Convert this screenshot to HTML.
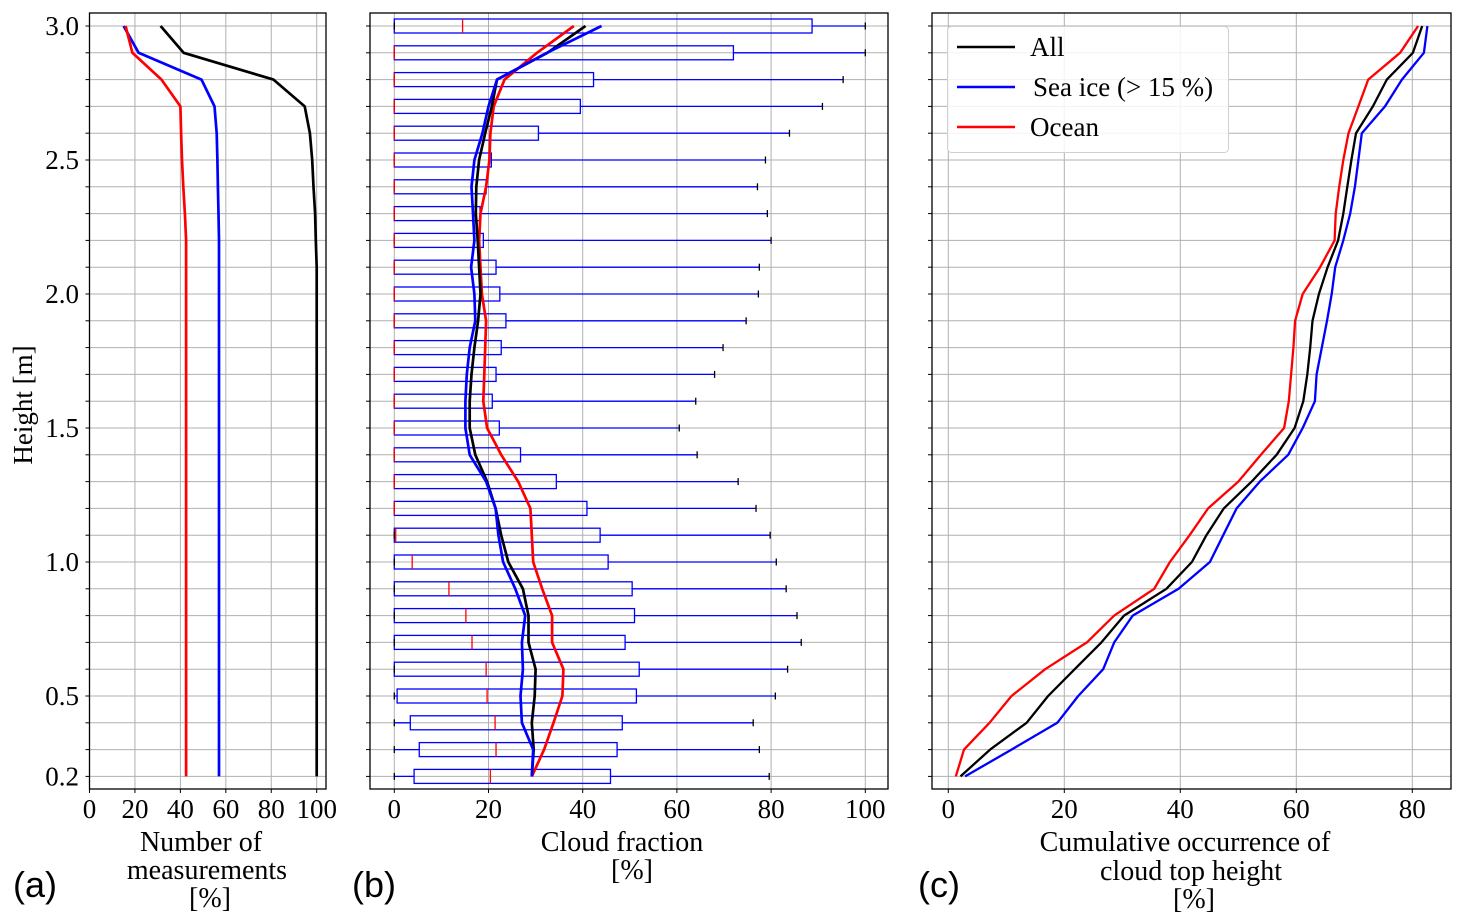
<!DOCTYPE html>
<html><head><meta charset="utf-8"><style>
html,body{margin:0;padding:0;background:#fff;}
svg{display:block;font-family:"Liberation Serif",serif;}
</style></head><body>
<svg id="fig" width="1465" height="924" viewBox="0 0 1465 924" xmlns="http://www.w3.org/2000/svg"></svg>
<script>
// ---- data (heights descending 3.0 .. 0.2) ----
const heights = [3.0,2.9,2.8,2.7,2.6,2.5,2.4,2.3,2.2,2.1,2.0,1.9,1.8,1.7,1.6,1.5,1.4,1.3,1.2,1.1,1.0,0.9,0.8,0.7,0.6,0.5,0.4,0.3,0.2];
const yTickLabels = [3.0,2.5,2.0,1.5,1.0,0.5,0.2];
// panel a: number of measurements [%]
const measAll   = [31.3,41.4,81,94.7,97,98,98.6,99.3,99.6,100,100,100,100,100,100,100,100,100,100,100,100,100,100,100,100,100,100,100,100];
const measIce   = [15,21.6,49.3,55,56,56.3,56.5,56.8,57,57,57,57,57,57,57,57,57,57,57,57,57,57,57,57,57,57,57,57,57];
const measOcean = [15.9,18.9,31.7,40,40.3,40.7,41.3,42,42.5,42.5,42.5,42.5,42.5,42.5,42.5,42.5,42.5,42.5,42.5,42.5,42.5,42.5,42.5,42.5,42.5,42.5,42.5,42.5,42.5];
const aTicks = [0,20,40,60,80,100];
// panel b: boxplots + mean lines
const boxLow  = [0,0,0,0,0,0,0,0,0,0,0,0,0,0,0,0,0,0,0,0,0,0,0,0,0,0,0,0,0];
const boxQ1   = [0,0,0,0,0,0,0,0,0,0,0,0,0,0,0,0,0,0,0,0,0,0,0,0,0,0.6,3.4,5.3,4.2];
const boxMed  = [14.5,0,0,0,0,0,0,0,0,0,0,0,0,0,0,0,0,0,0,0.3,3.8,11.6,15.2,16.5,19.5,19.7,21.4,21.6,20.4];
const boxQ3   = [88.7,72,42.3,39.5,30.6,20.6,19.5,18.2,18.9,21.6,22.4,23.7,22.7,21.6,20.8,22.3,26.8,34.4,40.9,43.7,45.4,50.5,51,49,52,51.4,48.4,47.3,45.9];
const boxHigh = [100,100,95.3,90.9,83.9,78.8,77.1,79.2,80,77.5,77.3,74.7,69.8,68,64,60.5,64.3,73,76.8,79.8,81.1,83.2,85.5,86.4,83.5,80.9,76.2,77.5,79.6];
const cfAll   = [40.6,32.5,21.8,20.7,19.3,18,17.4,17.3,17.7,18,18.3,17.8,17,16.4,16,16,17.2,19.7,21.5,22.7,24.2,27.3,28.5,28.5,30,29.8,29.2,29.6,29.2];
const cfIce   = [44,32.4,21.8,20,18.7,17,16.4,16.7,17,16.3,17,17.2,16,15.4,15.1,15.1,16,19.5,21.5,22.1,23.1,25.7,27.8,27.1,27.3,26.8,27.1,29.5,29.2];
const cfOcean = [38.1,30.3,23.4,21.1,20.4,20.2,19.5,18.3,18,18.3,18.6,19.5,19.3,19.1,18.9,19.7,22.7,26.3,28.9,29.2,29.5,31.4,33.5,33.5,35.9,35.7,33.8,31.8,29.2];
const bTicks = [0,20,40,60,80,100];
// panel c: cumulative occurrence of cloud top height
const cumAll   = [81.7,80.1,75.6,73.2,70.3,69.5,68.8,68.1,67.2,65.4,63.9,62.8,62.4,61.9,61.2,59.7,56.6,52.3,47.5,44.5,42,37.6,30.3,26.4,21.8,17.2,13.5,7.2,2.1];
const cumIce   = [82.6,82,78.2,75.3,71.3,70.7,70.1,69.3,68.1,66.7,66.1,65.3,64.4,63.5,63.2,61.1,58.6,53.7,49.7,47.4,45.1,39.7,31.8,28.6,26.7,22.4,18.8,10.9,2.9];
const cumOcean = [81,77.9,72.4,70.7,69,68.1,67.4,66.8,66.6,64.1,61.1,59.8,59.5,59.1,58.7,57.9,53.9,50,44.8,41.6,38.2,35.5,28.6,23.9,16.7,10.9,7.1,2.7,1.3];
const cTicks = [0,20,40,60,80];
const legendLabels = ["All","Sea ice (> 15 %)","Ocean"];

const NS="http://www.w3.org/2000/svg";
const svg=document.getElementById('fig');
function mk(tag,attrs,parent){const e=document.createElementNS(NS,tag);for(const k in attrs)e.setAttribute(k,attrs[k]);(parent||svg).appendChild(e);return e;}
const TOP=13,BOT=789;
function yS(v){return 26+(3.0-v)*268;}
const panels={
 a:{l:89.5,r:326,x0:89.5,k:2.272},
 b:{l:370,r:888,x0:394.3,k:4.71},
 c:{l:932,r:1451,x0:948.3,k:5.8}
};
function xF(p){return v=>p.x0+v*p.k;}

function axes(p,name,ticks,showY){
  const g=mk('g',{});
  
  
  const x=xF(p);
  heights.forEach(h=>{
    const l=mk('line',{x1:p.l,x2:p.r,y1:yS(h),y2:yS(h),stroke:'#b0b0b0','stroke-width':1},g);
    
    
  });
  ticks.forEach(t=>{
    const l=mk('line',{x1:x(t),x2:x(t),y1:TOP,y2:BOT,stroke:'#b0b0b0','stroke-width':1},g);
    
    
    mk('line',{x1:x(t),x2:x(t),y1:BOT,y2:BOT+4,stroke:'#000','stroke-width':1},g);
    const tx=mk('text',{x:x(t),y:818,'text-anchor':'middle','font-size':27},g);
    tx.textContent=t;
    
    
  });
  heights.forEach(h=>{
    mk('line',{x1:p.l-4,x2:p.l,y1:yS(h),y2:yS(h),stroke:'#000','stroke-width':1},g);
  });
  if(showY){
    yTickLabels.forEach(v=>{
      const tx=mk('text',{x:79,y:yS(v)+9,'text-anchor':'end','font-size':27},g);
      tx.textContent=v.toFixed(1);
      
      
    });
  }
  return g;
}
function frame(p,name){
  const r=mk('rect',{x:p.l,y:TOP,width:p.r-p.l,height:BOT-TOP,fill:'none',stroke:'#000','stroke-width':1.3});
  
  
}
function line(p,vals,color,name,w){
  const x=xF(p);
  const pts=vals.map((v,i)=>x(v).toFixed(1)+','+yS(heights[i]).toFixed(1)).join(' ');
  const pl=mk('polyline',{points:pts,fill:'none',stroke:color,'stroke-width':w,'stroke-linejoin':'round'});
  
  
}

axes(panels.a,'panel-a',aTicks,true);
line(panels.a,measAll,'#000','line-a-all',2.7);
line(panels.a,measIce,'#0000ff','line-a-sea-ice',2.7);
line(panels.a,measOcean,'#ff0000','line-a-ocean',2.7);
frame(panels.a,'panel-a');

axes(panels.b,'panel-b',bTicks,false);
(function(){
  const p=panels.b,x=xF(p);
  heights.forEach((h,i)=>{
    const y=yS(h);
    const g=mk('g',{});
    
    
    mk('line',{x1:x(boxLow[i]),x2:x(boxQ1[i]),y1:y,y2:y,stroke:'#0000ff','stroke-width':1.3},g);
    mk('line',{x1:x(boxQ3[i]),x2:x(boxHigh[i]),y1:y,y2:y,stroke:'#0000ff','stroke-width':1.3},g);
    mk('rect',{x:x(boxQ1[i]),y:y-7,width:x(boxQ3[i])-x(boxQ1[i]),height:14,fill:'none',stroke:'#0000ff','stroke-width':1.3},g);
    mk('line',{x1:x(boxLow[i]),x2:x(boxLow[i]),y1:y-3.5,y2:y+3.5,stroke:'#000','stroke-width':1.3},g);
    mk('line',{x1:x(boxHigh[i]),x2:x(boxHigh[i]),y1:y-3.5,y2:y+3.5,stroke:'#000','stroke-width':1.3},g);
    mk('line',{x1:x(boxMed[i]),x2:x(boxMed[i]),y1:y-7,y2:y+7,stroke:'#ff0000','stroke-width':1.3},g);
  });
})();
line(panels.b,cfOcean,'#ff0000','line-b-ocean',2.7);
line(panels.b,cfAll,'#000','line-b-all',2.7);
line(panels.b,cfIce,'#0000ff','line-b-sea-ice',2.7);
frame(panels.b,'panel-b');

axes(panels.c,'panel-c',cTicks,false);
line(panels.c,cumOcean,'#ff0000','line-c-ocean',2.3);
line(panels.c,cumAll,'#000','line-c-all',2.3);
line(panels.c,cumIce,'#0000ff','line-c-sea-ice',2.3);
frame(panels.c,'panel-c');

(function(){
  const g=mk('g',{});
  
  
  mk('rect',{x:947.5,y:26.5,width:281,height:126,rx:4,fill:'#fff','fill-opacity':0.85,stroke:'#d0d0d0','stroke-width':1},g);
  const cols=['#000','#0000ff','#ff0000'];
  const ys=[47,87,127];
  legendLabels.forEach((lab,i)=>{
    const e=mk('g',{},g);
    
    
    mk('line',{x1:957,x2:1015,y1:ys[i],y2:ys[i],stroke:cols[i],'stroke-width':2.6},e);
    const t=mk('text',{x:i==1?1033:1030,y:ys[i]+9,'font-size':27},e);
    t.textContent=lab;
  });
})();
</script>
<div style="position:absolute;left:0;top:0;width:1465px;height:924px;pointer-events:none;">
<svg width="1465" height="924" style="position:absolute;left:0;top:0;font-family:'Liberation Serif',serif;">
  <text x="0" y="0" font-size="27" text-anchor="middle" transform="translate(32,405) rotate(-90)">Height [m]</text>
  <g font-size="28" text-anchor="middle">
    <text x="201" y="851">Number of</text>
    <text x="207" y="879">measurements</text>
    <text x="210" y="907">[%]</text>
  </g>
  <g font-size="28" text-anchor="middle">
    <text x="622" y="851">Cloud fraction</text>
    <text x="632" y="879">[%]</text>
  </g>
  <g font-size="28" text-anchor="middle">
    <text x="1185" y="851">Cumulative occurrence of</text>
    <text x="1191" y="880">cloud top height</text>
    <text x="1194" y="908">[%]</text>
  </g>
  <g font-family="'Liberation Sans',sans-serif" font-size="36">
    <text x="13" y="897">(a)</text>
    <text x="352" y="897">(b)</text>
    <text x="918" y="897">(c)</text>
  </g>
</svg>
</div>
</body></html>
